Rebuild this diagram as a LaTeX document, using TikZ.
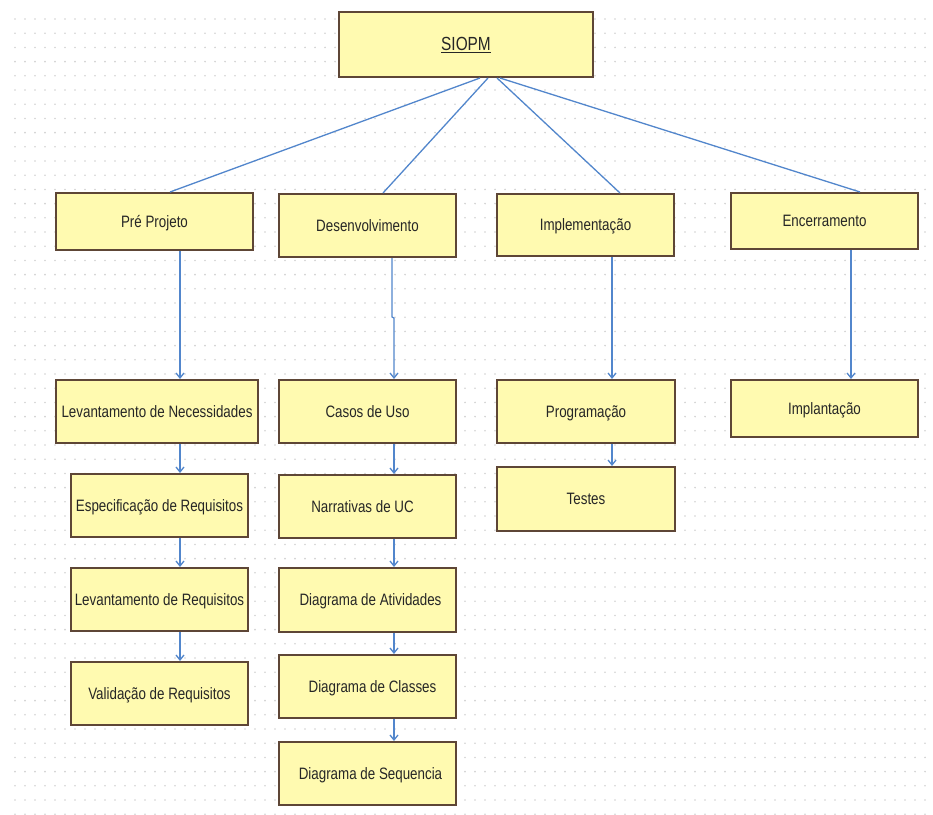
\documentclass[tikz,border=0pt]{standalone}
\usepackage{fontspec}
\setmainfont{Liberation Sans}
\newfontfamily\boxfont[FakeStretch=0.81]{Liberation Sans}
\usetikzlibrary{arrows.meta}
\definecolor{boxfill}{HTML}{FFFAB0}
\definecolor{boxline}{HTML}{5E4636}
\definecolor{linkblue}{HTML}{5286CC}
\definecolor{dotgray}{HTML}{D2D2D2}
\definecolor{txt}{HTML}{262626}
\begin{document}
\begin{tikzpicture}[x=1pt,y=-1pt,
  stage/.style={draw=boxline, fill=boxfill, line width=2pt, text=txt,
    font=\boxfont\fontsize{16.5}{19}\selectfont, inner sep=0pt,
    text height=13pt, text depth=2pt, align=center},
  link/.style={draw=linkblue, line width=1.3pt},
  arr/.style={link, -{Straight Barb[length=5pt,width=8pt]}}]
\useasboundingbox (0,0) rectangle (933,814);
\fill[white] (0,0) rectangle (933,814);

% dotted drawing grid
\foreach \i in {0,...,91}{
  \foreach \j in {0,...,56}{
    \fill[dotgray] (15+\i*10, 19+\j*14.2) circle (0.9);
  }
}

% column guides for the vertical connectors
\coordinate (colA) at (180,0);
\coordinate (colB) at (394,0);
\coordinate (colC) at (612,0);
\coordinate (colD) at (851,0);
\coordinate (colBup) at (392,0);

% root
\node[stage, minimum width=254, minimum height=65, font=\boxfont\fontsize{19}{21}\selectfont, text height=14pt]
  (siopm) at (466,44.5) {\underline{SIOPM}};

% phases
\node[stage, minimum width=197, minimum height=57] (pre)  at (154.5,221.5) {Pré Projeto};
\node[stage, minimum width=177, minimum height=63] (dev)  at (367.5,225.5) {Desenvolvimento};
\node[stage, minimum width=177, minimum height=62] (impl) at (585.5,225)   {Implementação};
\node[stage, minimum width=187, minimum height=56] (enc)  at (824.5,221)   {Encerramento};

% Pré Projeto column
\node[stage, minimum width=202, minimum height=63] (lnec)  at (157,411.5)   {Levantamento de Necessidades};
\node[stage, minimum width=177, minimum height=63] (espec) at (159.5,505.5) {Especificação de Requisitos};
\node[stage, minimum width=177, minimum height=63] (lreq)  at (159.5,599.5) {Levantamento de Requisitos};
\node[stage, minimum width=177, minimum height=63] (valid) at (159.5,693.5) {Validação de Requisitos};

% Desenvolvimento column
\node[stage, minimum width=177, minimum height=63] (casos) at (367.5,411.5) {Casos de Uso};
\node[stage, minimum width=177, minimum height=63] (narr)  at (367.5,506.5) {Narrativas de UC\hspace*{10pt}};
\node[stage, minimum width=177, minimum height=64] (ativ)  at (367.5,600)   {\hspace*{6pt}Diagrama de Atividades};
\node[stage, minimum width=177, minimum height=63] (class) at (367.5,686.5) {\hspace*{10pt}Diagrama de Classes};
\node[stage, minimum width=177, minimum height=63] (seq)   at (367.5,773.5) {\hspace*{6pt}Diagrama de Sequencia};

% Implementação column
\node[stage, minimum width=178, minimum height=63] (prog)  at (586,411.5) {Programação};
\node[stage, minimum width=178, minimum height=64] (test)  at (586,499)   {Testes};

% Encerramento column
\node[stage, minimum width=187, minimum height=57] (impla) at (824.5,408.5) {Implantação};

% root to phases
\draw[link] ([xshift=14pt]siopm.south) -- ([xshift=15.5pt]pre.north);
\draw[link] ([xshift=22pt]siopm.south) -- ([xshift=15.5pt]dev.north);
\draw[link] ([xshift=31pt]siopm.south) -- ([xshift=34.5pt]impl.north);
\draw[link] ([xshift=34pt]siopm.south) -- ([xshift=35.5pt]enc.north);

% phase to first activity
\draw[arr] (pre.south -| colA) -- (lnec.north -| colA);
\draw[arr] (dev.south -| colBup) -- ++(0,59) -- ++(2,1) -- (casos.north -| colB);
\draw[arr] (impl.south -| colC) -- (prog.north -| colC);
\draw[arr] (enc.south -| colD) -- (impla.north -| colD);

% activity sequences
\draw[arr] (lnec.south -| colA)  -- (espec.north -| colA);
\draw[arr] (espec.south -| colA) -- (lreq.north -| colA);
\draw[arr] (lreq.south -| colA)  -- (valid.north -| colA);

\draw[arr] (casos.south -| colB) -- (narr.north -| colB);
\draw[arr] (narr.south -| colB)  -- (ativ.north -| colB);
\draw[arr] (ativ.south -| colB)  -- (class.north -| colB);
\draw[arr] (class.south -| colB) -- (seq.north -| colB);

\draw[arr] (prog.south -| colC) -- (test.north -| colC);
\end{tikzpicture}
\end{document}
